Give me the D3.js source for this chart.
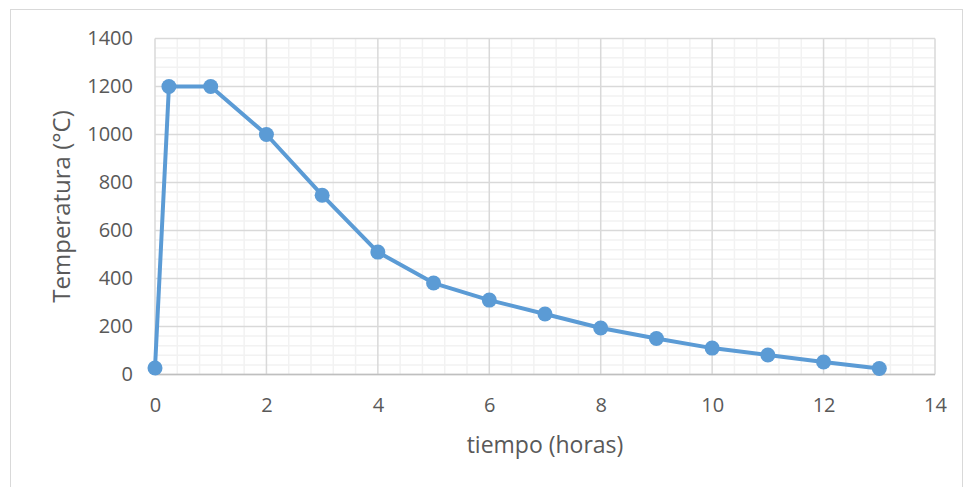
<!DOCTYPE html>
<html>
<head>
<meta charset="utf-8">
<script src="https://cdn.jsdelivr.net/npm/d3@7"></script>
<style>
  body { margin: 0; background: #fff; }
  #chart { width: 966px; height: 487px; }
  text { font-family: "Open Sans", "Liberation Sans", sans-serif; fill: #595959; }
</style>
</head>
<body>
<div id="chart"></div>
<script>
// data
const tiempo = [0, 0.25, 1, 2, 3, 4, 5, 6, 7, 8, 9, 10, 11, 12, 13];
const temperatura = [27, 1200, 1200, 1000, 747, 510, 381, 310, 252, 194, 150, 110, 81, 52, 25];
const xTicks = [0, 2, 4, 6, 8, 10, 12, 14];
const yTicks = [0, 200, 400, 600, 800, 1000, 1200, 1400];

function createTempChart() {
    const container = d3.select('#chart');
    container.selectAll('*').remove();

    const W = 966, H = 487;
    const margin = { top: 38.5, right: 31, bottom: 112.5, left: 155 };
    const width = W - margin.left - margin.right;
    const height = H - margin.top - margin.bottom;

    const svg = container.append('svg')
        .attr('width', W)
        .attr('height', H);

    // outer chart border
    svg.append('rect')
        .attr('x', 10.5).attr('y', 9.5)
        .attr('width', 952).attr('height', 490)
        .attr('fill', 'none')
        .attr('stroke', '#D9D9D9')
        .attr('stroke-width', 1);

    const g = svg.append('g')
        .attr('transform', `translate(${margin.left},${margin.top})`);

    const x = d3.scaleLinear().domain([0, 14]).range([0, width]);
    const y = d3.scaleLinear().domain([0, 1400]).range([height, 0]);

    // minor gridlines
    const xMinor = d3.range(0, 14.001, 0.4).filter(v => Math.abs(v / 2 - Math.round(v / 2)) > 1e-6);
    const yMinor = d3.range(0, 1400.001, 40).filter(v => v % 200 !== 0);

    g.append('g').selectAll('line')
        .data(xMinor)
        .join('line')
        .attr('x1', d => x(d)).attr('x2', d => x(d))
        .attr('y1', 0).attr('y2', height)
        .attr('stroke', '#F2F2F2').attr('stroke-width', 1.5);

    g.append('g').selectAll('line')
        .data(yMinor)
        .join('line')
        .attr('x1', 0).attr('x2', width)
        .attr('y1', d => y(d)).attr('y2', d => y(d))
        .attr('stroke', '#F2F2F2').attr('stroke-width', 1.5);

    // major gridlines
    g.append('g').selectAll('line')
        .data(xTicks)
        .join('line')
        .attr('x1', d => x(d)).attr('x2', d => x(d))
        .attr('y1', 0).attr('y2', height)
        .attr('stroke', '#D9D9D9').attr('stroke-width', 1.5);

    g.append('g').selectAll('line')
        .data(yTicks)
        .join('line')
        .attr('x1', 0).attr('x2', width)
        .attr('y1', d => y(d)).attr('y2', d => y(d))
        .attr('stroke', '#D9D9D9').attr('stroke-width', 1.5);

    // bottom axis line
    g.append('line')
        .attr('x1', 0).attr('x2', width)
        .attr('y1', height).attr('y2', height)
        .attr('stroke', '#BFBFBF').attr('stroke-width', 1.5);

    // Axes (labels only)
    const xAxis = g.append('g')
        .attr('transform', `translate(0,${height})`)
        .call(d3.axisBottom(x).tickValues(xTicks).tickFormat(d3.format('d')).tickSize(0).tickPadding(23));
    xAxis.select('.domain').remove();

    const yAxis = g.append('g')
        .call(d3.axisLeft(y).tickValues(yTicks).tickFormat(d3.format('d')).tickSize(0).tickPadding(22));
    yAxis.select('.domain').remove();

    g.selectAll('.tick text')
        .attr('fill', '#595959')
        .style('font-size', '20px')
        .style('font-family', '"Open Sans", "Liberation Sans", sans-serif');

    // Axis titles
    g.append('text')
        .attr('transform', 'rotate(-90)')
        .attr('x', -(206.5 - margin.top))
        .attr('y', 70 - margin.left)
        .style('text-anchor', 'middle')
        .style('font-size', '24px')
        .text('Temperatura (°C)');

    g.append('text')
        .attr('x', 545 - margin.left)
        .attr('y', 453 - margin.top)
        .style('text-anchor', 'middle')
        .style('font-size', '23px')
        .text('tiempo (horas)');

    // series
    const pts = tiempo.map((t, i) => ({ t, v: temperatura[i] }));

    g.append('path')
        .datum(pts)
        .attr('fill', 'none')
        .attr('stroke', '#5B9BD5')
        .attr('stroke-width', 4)
        .attr('stroke-linejoin', 'round')
        .attr('d', d3.line().x(d => x(d.t)).y(d => y(d.v)));

    g.selectAll('.pt')
        .data(pts)
        .join('circle')
        .attr('class', 'pt')
        .attr('cx', d => x(d.t))
        .attr('cy', d => y(d.v))
        .attr('r', 7.5)
        .attr('fill', '#5B9BD5');
}

createTempChart();
</script>
</body>
</html>
